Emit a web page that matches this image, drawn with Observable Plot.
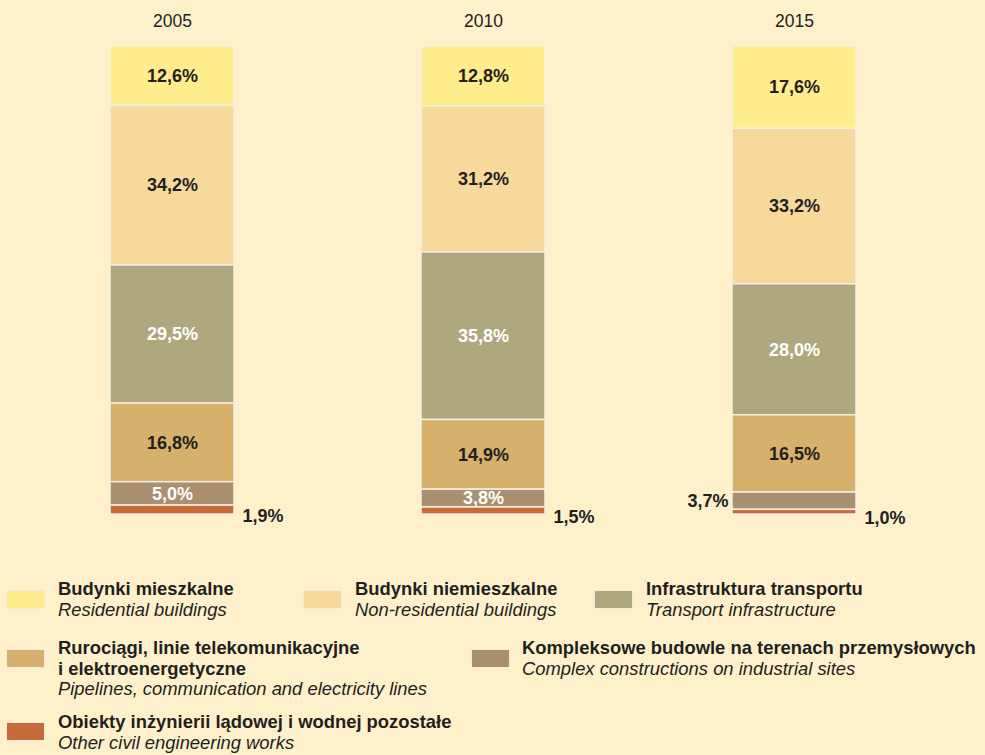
<!DOCTYPE html>
<html>
<head>
<meta charset="utf-8">
<script src="https://cdn.jsdelivr.net/npm/d3@7"></script>
<script src="https://cdn.jsdelivr.net/npm/@observablehq/plot@0.6"></script>
<style>
  html, body { margin: 0; padding: 0; background: #fff0cc; }
  body { width: 985px; height: 755px; position: relative; overflow: hidden;
         font-family: "Liberation Sans", Arial, Helvetica, sans-serif; color: #231f20; }
  #chart { position: absolute; left: 0; top: 0; }
  .item { position: absolute; font-size: 18.4px; line-height: 20.6px; white-space: nowrap; }
  .sw { position: absolute; width: 39px; height: 19px; border: 1px solid #f3eadb; box-sizing: border-box; }
  .pl { font-weight: bold; }
  .en { font-style: italic; }
</style>
</head>
<body>
<div id="chart"></div>
<div id="legend"></div>
<script>
// ---- data ----
const years = ["2005", "2010", "2015"];
const categoriesPl = [
  "Budynki mieszkalne",
  "Budynki niemieszkalne",
  "Infrastruktura transportu",
  "Rurociągi, linie telekomunikacyjne i elektroenergetyczne",
  "Kompleksowe budowle na terenach przemysłowych",
  "Obiekty inżynierii lądowej i wodnej pozostałe"
];
const categoriesEn = [
  "Residential buildings",
  "Non-residential buildings",
  "Transport infrastructure",
  "Pipelines, communication and electricity lines",
  "Complex constructions on industrial sites",
  "Other civil engineering works"
];
const residential    = [12.6, 12.8, 17.6];
const nonResidential = [34.2, 31.2, 33.2];
const transport      = [29.5, 35.8, 28.0];
const pipelines      = [16.8, 14.9, 16.5];
const complexSites   = [5.0, 3.8, 3.7];
const otherWorks     = [1.9, 1.5, 1.0];
const colors = ["#ffec8c", "#f8d99c", "#aea87e", "#d5b16b", "#aa8f70", "#c86b39"];

const series = [residential, nonResidential, transport, pipelines, complexSites, otherWorks];
const rows = years.flatMap((year, i) =>
  categoriesPl.map((cat, j) => ({year, cat, idx: j, value: series[j][i]})));

const fmt = v => v.toFixed(1).replace(".", ",") + "%";
// label placement: last category outside right; smallest complex segment outside left
function place(d) {
  if (d.idx === 5) return "right";
  if (d.idx === 4 && d.year === "2015") return "left";
  return "inside";
}
const whiteText = d => d.idx === 2 || d.idx === 4;

const stackOpts = {x: "year", y: "value"};
const chart = Plot.plot({
  width: 985,
  height: 540,
  marginTop: 46,
  marginBottom: 26,
  marginLeft: 16,
  marginRight: 34,
  style: {background: "transparent", fontFamily: "Liberation Sans, Arial, sans-serif"},
  x: {domain: years, paddingInner: 0.6, paddingOuter: 0.3, axis: null},
  y: {domain: [0, 100], reverse: true, axis: null},
  color: {domain: categoriesPl, range: colors},
  marks: [
    Plot.barY(rows, Plot.stackY({...stackOpts, fill: "cat", stroke: "#f4efe2", strokeWidth: 1.5})),
    Plot.text(years, {x: d => d, frameAnchor: "top", lineAnchor: "middle", dy: -25, text: d => d,
      fontSize: 17.5, fill: "#231f20"}),
    Plot.text(rows, Plot.stackY({...stackOpts,
      text: d => place(d) === "inside" && !whiteText(d) ? fmt(d.value) : "",
      fill: "#231f20", fontSize: 18, fontWeight: "bold"})),
    Plot.text(rows, Plot.stackY({...stackOpts,
      text: d => place(d) === "inside" && whiteText(d) ? fmt(d.value) : "",
      fill: "#ffffff", fontSize: 18, fontWeight: "bold"})),
    Plot.text(rows, Plot.stackY({...stackOpts,
      text: d => place(d) === "right" ? fmt(d.value) : "",
      fill: "#231f20", fontSize: 18, fontWeight: "bold", textAnchor: "start", dx: 70, dy: 6})),
    Plot.text(rows, Plot.stackY({...stackOpts,
      text: d => place(d) === "left" ? fmt(d.value) : "",
      fill: "#231f20", fontSize: 18, fontWeight: "bold", textAnchor: "end", dx: -66, dy: 0}))
  ]
});
document.getElementById("chart").appendChild(chart);

// ---- legend (HTML) ----
const legendPos = [
  {sx: 6, sy: 590, tx: 58, ty: 579, lines: ["Budynki mieszkalne"]},
  {sx: 303, sy: 590, tx: 355, ty: 579, lines: ["Budynki niemieszkalne"]},
  {sx: 594, sy: 590, tx: 646, ty: 579, lines: ["Infrastruktura transportu"]},
  {sx: 6, sy: 649, tx: 58, ty: 638, lines: ["Rurociągi, linie telekomunikacyjne", "i elektroenergetyczne"]},
  {sx: 471, sy: 649, tx: 522, ty: 638, lines: ["Kompleksowe budowle na terenach przemysłowych"]},
  {sx: 6, sy: 722, tx: 58, ty: 712, lines: ["Obiekty inżynierii lądowej i wodnej pozostałe"]}
];
const legend = document.getElementById("legend");
legendPos.forEach((p, i) => {
  const sw = document.createElement("div");
  sw.className = "sw";
  sw.style.left = p.sx + "px"; sw.style.top = p.sy + "px";
  sw.style.background = colors[i];
  legend.appendChild(sw);
  const it = document.createElement("div");
  it.className = "item";
  it.style.left = p.tx + "px"; it.style.top = p.ty + "px";
  it.innerHTML = p.lines.map(l => `<div class="pl">${l}</div>`).join("") +
    `<div class="en">${categoriesEn[i]}</div>`;
  legend.appendChild(it);
});
</script>
</body>
</html>
